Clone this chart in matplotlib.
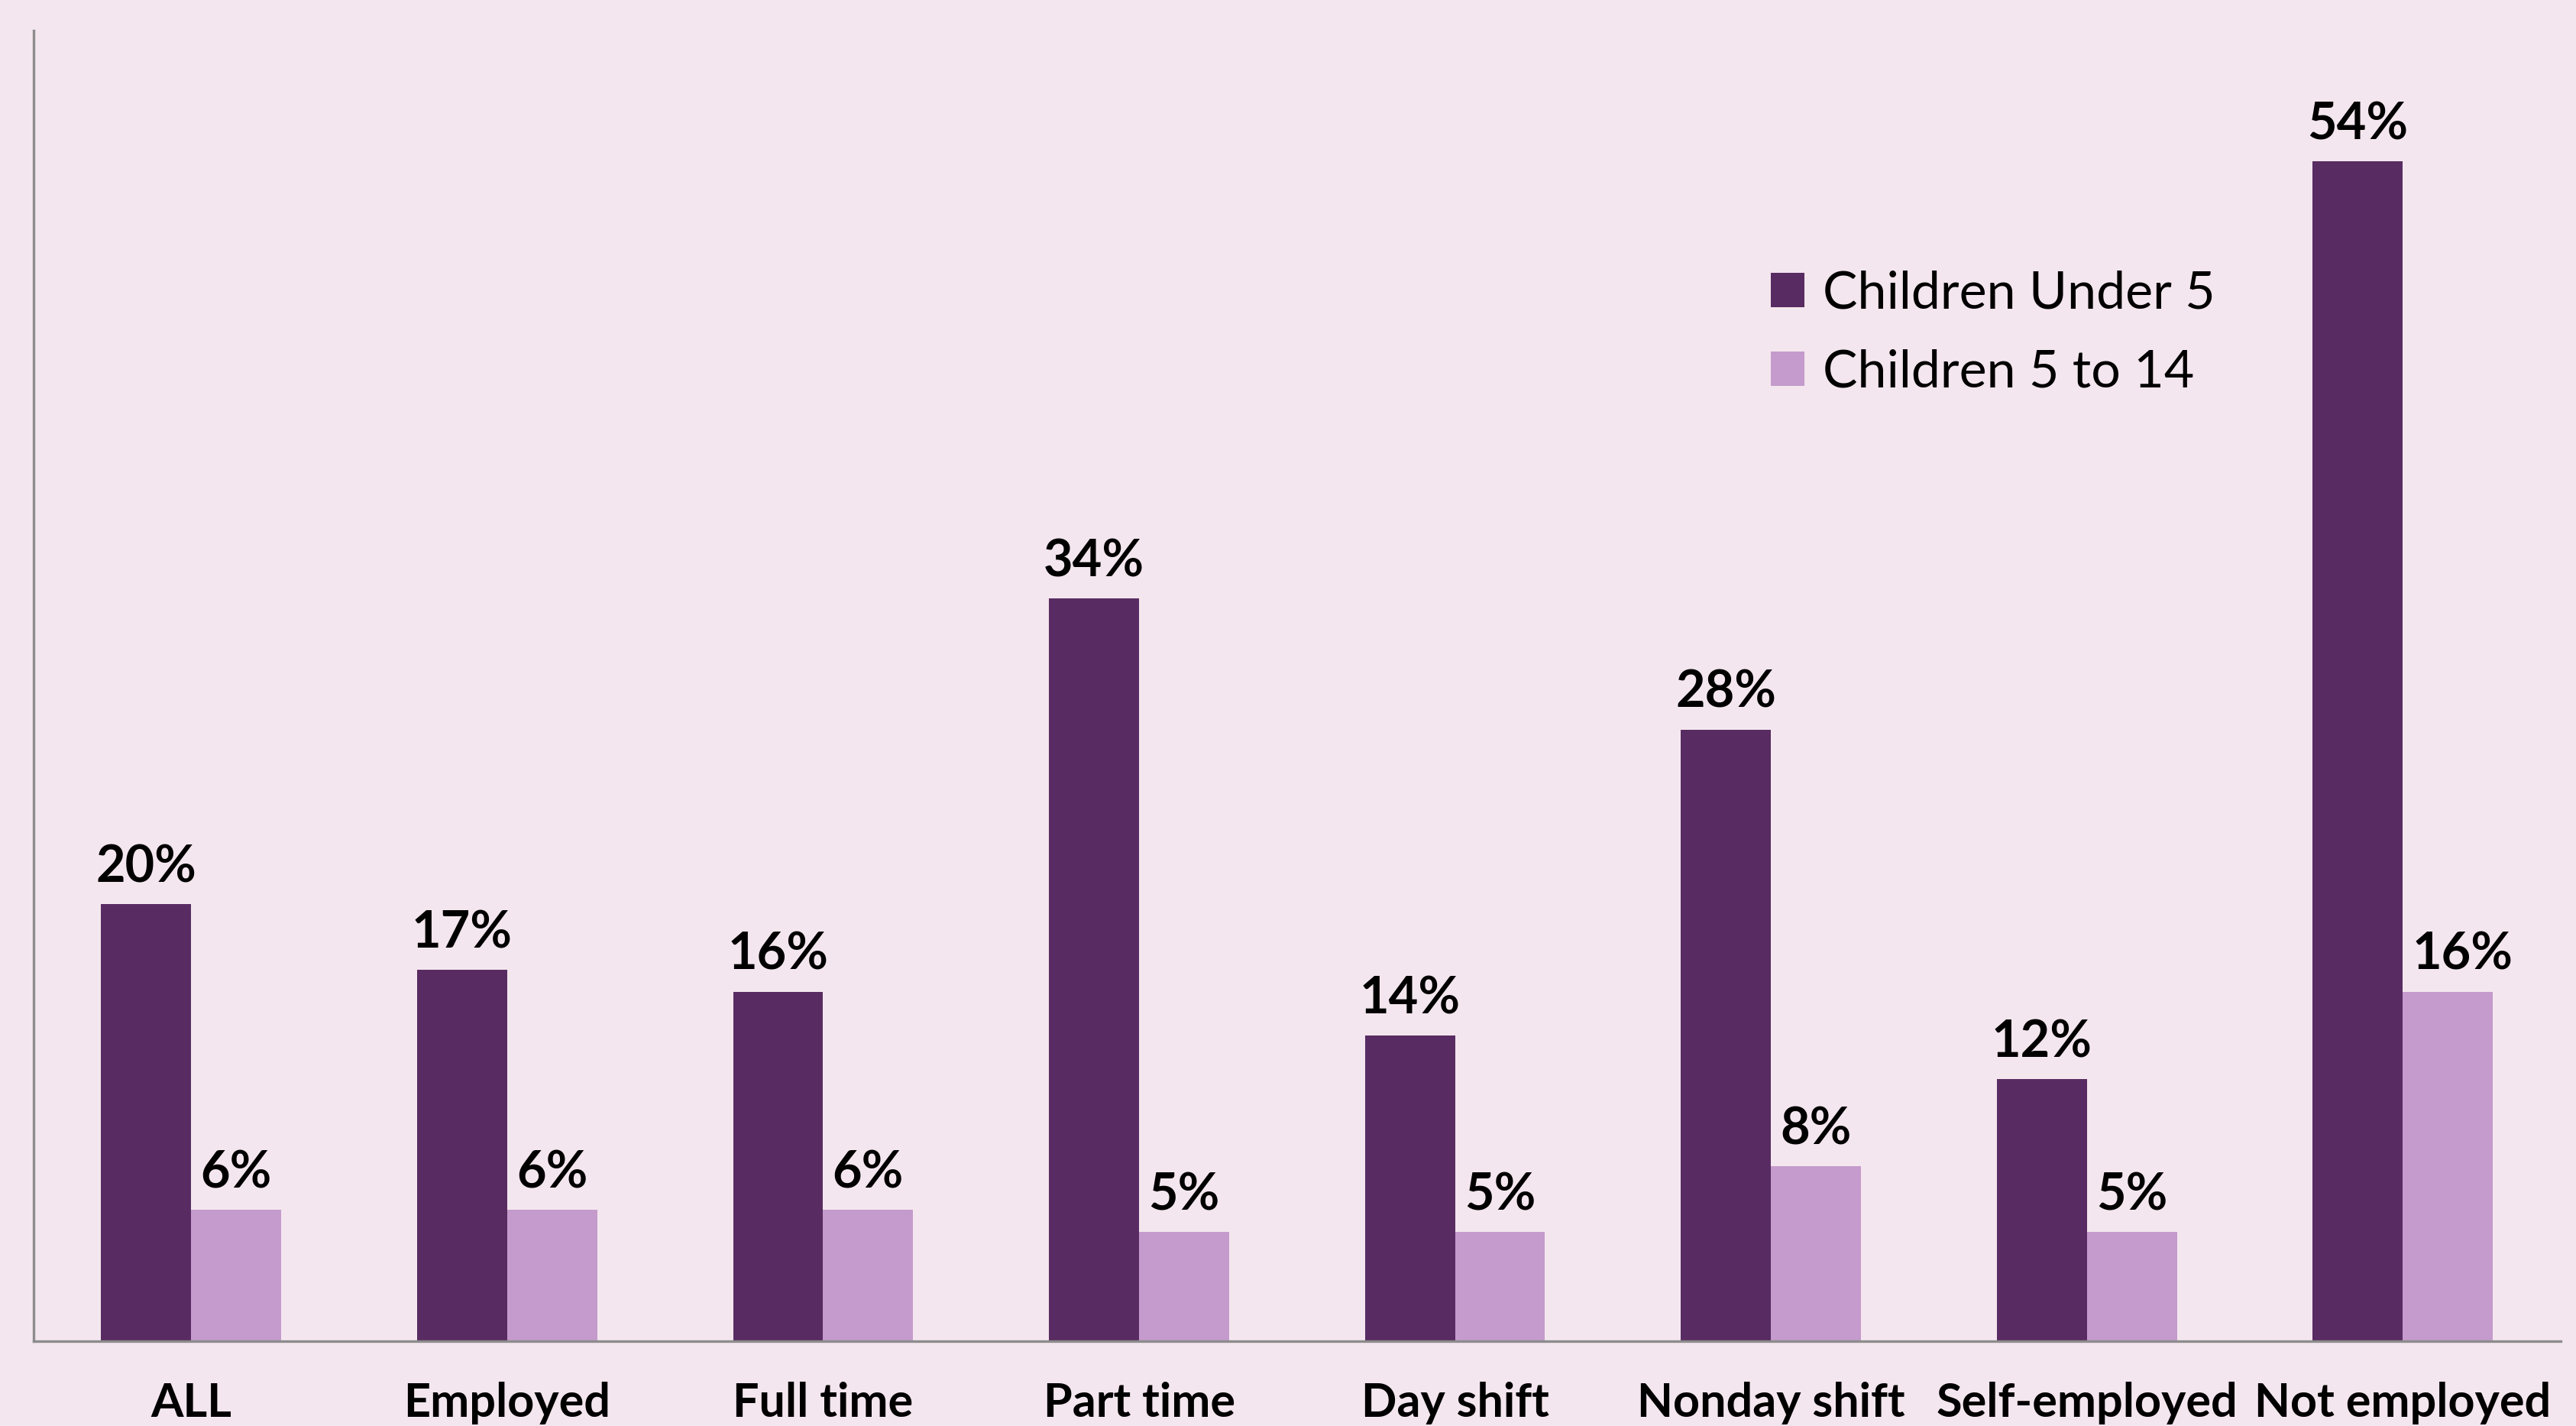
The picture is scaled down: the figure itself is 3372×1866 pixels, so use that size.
import matplotlib
matplotlib.use('Agg')
import numpy as np
from matplotlib import pyplot as plt

categories = ['ALL', 'Employed', 'Full time', 'Part time', 'Day shift',
              'Nonday shift', 'Self-employed', 'Not employed']
under5 = [20, 17, 16, 34, 14, 28, 12, 54]
age5to14 = [6, 6, 6, 5, 5, 8, 5, 16]
series_names = ['Children Under 5', 'Children 5 to 14']

BG = '#F4E6EE'
DARK = '#582C62'
LIGHT = '#C49BCC'

plt.rcParams['font.family'] = ['Lato', 'DejaVu Sans']

fig = plt.figure(figsize=(16.865, 9.33), dpi=200, facecolor=BG)
ax = fig.add_axes([0.0129, 0.0595, 0.9809, 0.9191])
ax.set_facecolor(BG)

x = np.arange(len(categories))
w = 0.285
b1 = ax.bar(x - w / 2, under5, w, color=DARK, label=series_names[0], zorder=2)
b2 = ax.bar(x + w / 2, age5to14, w, color=LIGHT, label=series_names[1], zorder=2)

# value labels on top of the bars
for bars, vals in ((b1, under5), (b2, age5to14)):
    for rect, v in zip(bars, vals):
        # two-digit labels on the light bars would touch the dark neighbour
        dx = 7 if (bars is b2 and v >= 10) else 0
        ax.annotate(f'{v}%', (rect.get_x() + rect.get_width() / 2, rect.get_height()),
                    xytext=(dx, 6), textcoords='offset points',
                    ha='center', va='bottom', fontsize=24, fontweight='bold')

ax.set_xlim(-0.5, len(categories) - 0.5)
ax.set_ylim(0, 60)
ax.set_yticks([])
ax.set_xticks(x)
ax.set_xticklabels(categories, fontsize=22, fontweight='bold')
ax.tick_params(axis='x', length=0, pad=19)

for side in ('top', 'right'):
    ax.spines[side].set_visible(False)
for side in ('left', 'bottom'):
    ax.spines[side].set_color('#8C8C8C')
    ax.spines[side].set_linewidth(1.2)

ax.legend(loc='upper left', bbox_to_anchor=(0.669, 0.853), frameon=False,
          fontsize=24.5, handlelength=0.65, handleheight=0.65, handletextpad=0.35,
          labelspacing=0.6)

fig.savefig('out.png', dpi=200, facecolor=BG)
